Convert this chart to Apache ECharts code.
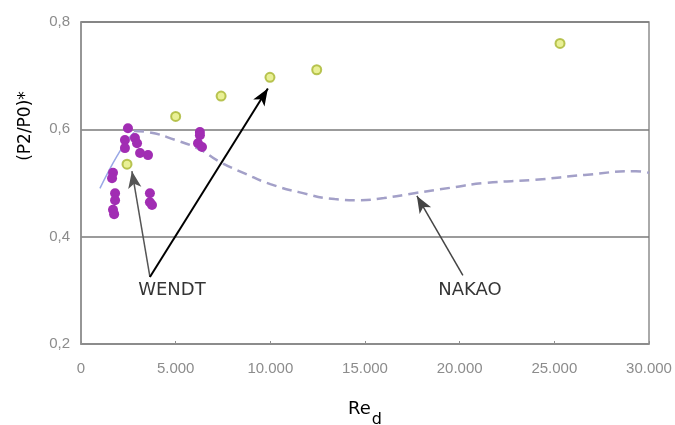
<!DOCTYPE html>
<html>
<head>
<meta charset="utf-8">
<script src="https://cdn.jsdelivr.net/npm/echarts@6/dist/echarts.min.js"></script>
<style>
html,body{margin:0;padding:0;background:#fff;}
#chart{width:675px;height:425px;}
</style>
</head>
<body>
<div id="chart"></div>
<script>
// ---- data ----
var xTickLabels = ['0', '5.000', '10.000', '15.000', '20.000', '25.000', '30.000'];
var yTickLabels = ['0,2', '0,4', '0,6', '0,8'];

// yellow-green measured points
var yellowPoints = [[2430, 0.535], [5000, 0.624], [7400, 0.662], [9980, 0.697], [12450, 0.711], [25300, 0.760]];

// WENDT purple points
var wendtPoints = [
  [2480, 0.602], [2320, 0.580], [2850, 0.584], [2960, 0.574], [2320, 0.565],
  [3120, 0.556], [3540, 0.552], [1690, 0.519], [1640, 0.509], [1800, 0.481],
  [1800, 0.468], [1690, 0.450], [1750, 0.442], [3640, 0.481], [3640, 0.464],
  [3750, 0.459], [6280, 0.595], [6280, 0.589], [6180, 0.574], [6390, 0.567]
];

// solid light-blue rising curve
var risingCurve = [[1000, 0.490], [1400, 0.518], [1900, 0.550], [2400, 0.578], [2800, 0.594]];

// NAKAO dashed curve
var nakaoCurve = [
  [2800, 0.597], [3500, 0.595], [5000, 0.580], [6300, 0.562], [7300, 0.540],
  [8700, 0.517], [10000, 0.498], [11500, 0.483], [13400, 0.470], [14700, 0.468],
  [16000, 0.472], [17600, 0.481], [19500, 0.491], [21300, 0.500], [24000, 0.506],
  [26600, 0.515], [29300, 0.522], [30000, 0.519]
];

// annotation labels and arrows
var noteNames = ['WENDT', 'NAKAO'];
var noteX = [4800, 20540];
var noteY = [0.300, 0.300];
var arrowFrom = [[3640, 0.325], [3640, 0.325], [20170, 0.328]];
var arrowTo = [[2690, 0.522], [9870, 0.676], [17740, 0.476]];
var arrowColors = ['#555', '#000', '#444'];
var arrowWidths = [1.5, 2, 1.5];

// ---- chart ----
var chart = echarts.init(document.getElementById('chart'), null, {renderer: 'canvas'});

var arrowData = arrowFrom.map(function (f, i) {
  return [
    {coord: f, symbol: 'none', lineStyle: {color: arrowColors[i], width: arrowWidths[i], type: 'solid'}},
    {coord: arrowTo[i], symbol: 'arrow', symbolSize: [10, 17]}
  ];
});

var option = {
  backgroundColor: '#fff',
  animation: false,
  grid: {left: 81, right: 26, top: 22, bottom: 81, show: true, borderColor: '#8f8f8f', borderWidth: 1.5, containLabel: false, outerBoundsMode: 'none'},
  xAxis: {
    type: 'value', min: 0, max: 30000, interval: 5000,
    name: '{a|Re}{b|d}', nameLocation: 'middle', nameGap: 46,
    nameTextStyle: {
      rich: {
        a: {fontFamily: 'DejaVu Sans', fontSize: 18, color: '#000'},
        b: {fontFamily: 'DejaVu Sans', fontSize: 16, color: '#000', padding: [22, 0, 0, 1]}
      }
    },
    axisLine: {show: true, lineStyle: {color: '#8f8f8f', width: 1.5}},
    axisTick: {show: true, inside: true, length: 3, lineStyle: {color: '#8f8f8f'}},
    splitLine: {show: false},
    axisLabel: {
      margin: 17, color: '#8c8c8c', fontFamily: 'Liberation Sans', fontSize: 15,
      formatter: function (v) { return xTickLabels[Math.round(v / 5000)]; }
    }
  },
  yAxis: {
    type: 'value', min: 0.2, max: 0.8, interval: 0.2,
    name: '(P2/P0)*', nameLocation: 'middle', nameGap: 47, nameRotate: 90,
    nameTextStyle: {fontFamily: 'DejaVu Sans', fontSize: 17, color: '#000', padding: [0, 0, 0, 114]},
    axisLine: {show: true, lineStyle: {color: '#8f8f8f', width: 1.5}},
    axisTick: {show: false},
    splitLine: {show: true, lineStyle: {color: '#7a7a7a', width: 1.5}},
    axisLabel: {
      margin: 11, color: '#8c8c8c', fontFamily: 'Liberation Sans', fontSize: 15,
      formatter: function (v) { return yTickLabels[Math.round((v - 0.2) / 0.2)]; }
    }
  },
  series: [
    {
      type: 'line', data: risingCurve, smooth: true, symbol: 'none', silent: true,
      lineStyle: {color: '#9aa8e6', width: 1.5}, z: 2
    },
    {
      type: 'line', data: nakaoCurve, smooth: true, symbol: 'none', silent: true,
      lineStyle: {color: '#a3a0c8', width: 2.5, type: [10, 6]}, z: 2
    },
    {
      type: 'scatter', data: wendtPoints, symbol: 'circle', symbolSize: 10, silent: true,
      itemStyle: {color: '#a12db3', opacity: 1}, z: 3
    },
    {
      type: 'scatter', data: yellowPoints, symbol: 'circle', symbolSize: 9, silent: true,
      itemStyle: {color: '#e4ec7c', borderColor: '#a8b530', borderWidth: 2}, z: 4
    },
    {
      type: 'scatter', silent: true, symbolSize: 0, z: 5,
      data: noteNames.map(function (n, i) { return {value: [noteX[i], noteY[i]], name: n}; }),
      label: {show: true, position: 'inside', formatter: '{b}', fontFamily: 'DejaVu Sans', fontSize: 18, color: '#000'},
      markLine: {
        silent: true, animation: false,
        symbol: ['none', 'arrow'],
        label: {show: false},
        emphasis: {disabled: true},
        data: arrowData
      }
    }
  ]
};
chart.setOption(option);
</script>
</body>
</html>
